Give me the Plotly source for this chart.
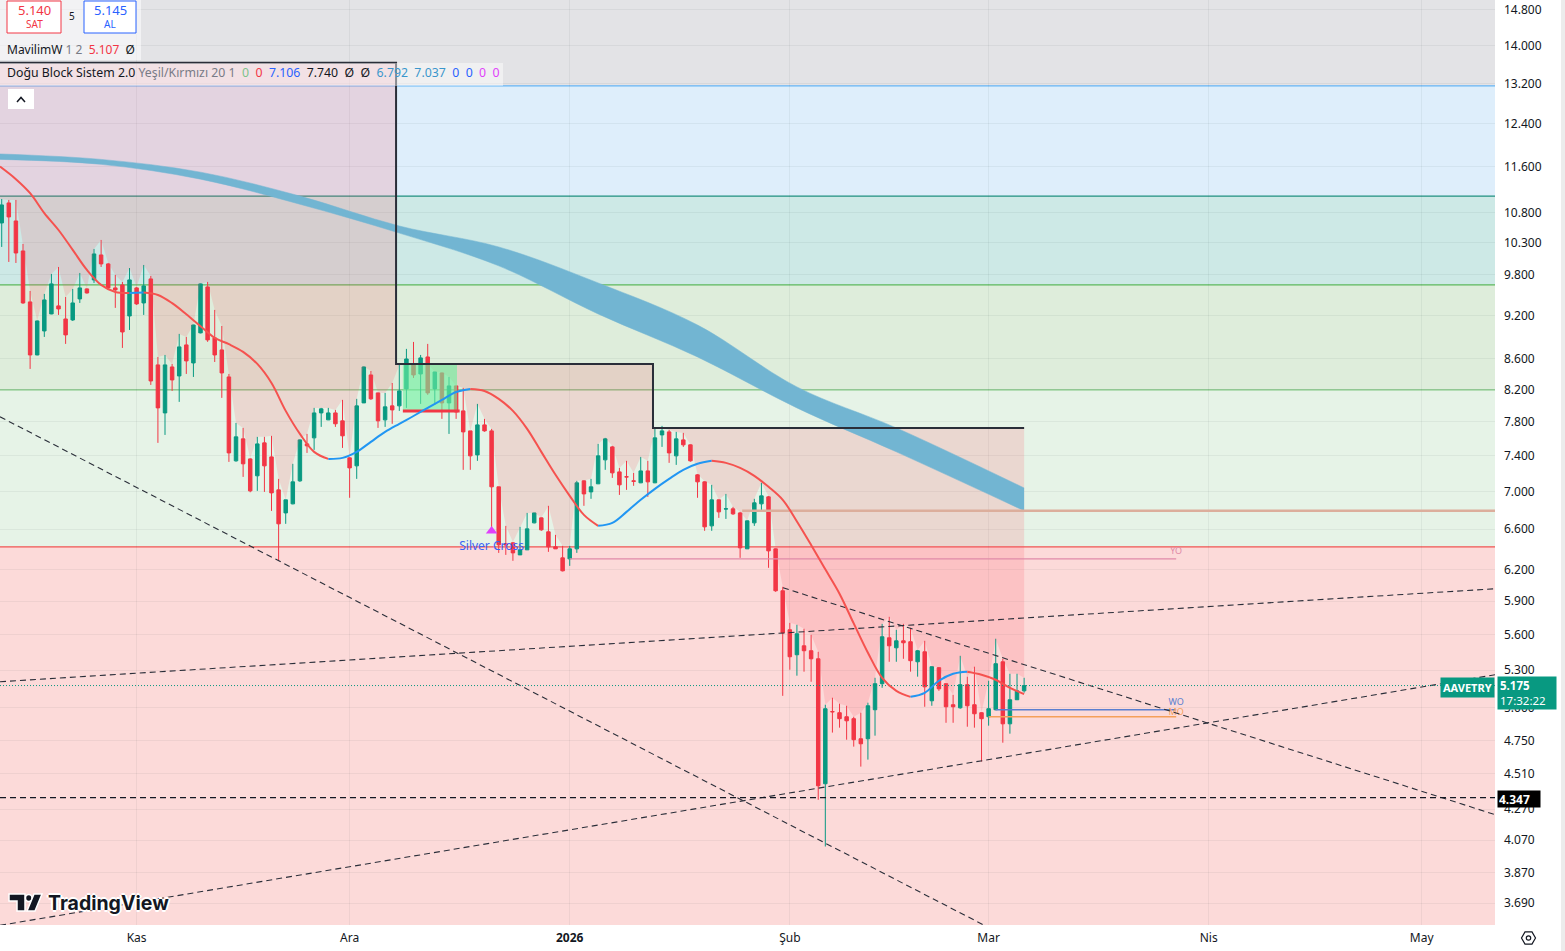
import math
import pandas as pd
import plotly.graph_objects as go

# ---------------- data ----------------
dates = pd.date_range('2025-10-13', periods=145, freq='D')

opens = [10.626, 10.962, 10.659, 10.173, 9.398, 8.654, 8.983, 9.224, 9.340, 9.152,
         9.138, 9.442, 9.590, 9.725, 10.110, 9.970, 9.605, 9.650, 9.195, 9.605,
         9.383, 9.740, 8.521, 7.908, 8.494, 8.376, 8.790, 8.547, 8.956, 9.620,
         8.886, 8.722, 8.363, 7.340, 7.595, 7.362, 7.171, 7.548, 7.385, 7.016,
         6.769, 6.865, 7.115, 7.536, 7.607, 7.908, 7.823, 7.908, 7.811, 7.374,
         7.283, 8.032, 8.389, 8.158, 7.823, 7.995, 7.995, 8.209, 8.521, 8.402,
         8.627, 8.209, 8.415, 8.032, 8.247, 7.933, 7.690, 7.408, 7.762, 7.690,
         7.049, 6.451, 6.461, 6.341, 6.391, 6.665, 6.717, 6.573, 6.421, 6.312,
         6.302, 6.401, 7.115, 6.994, 7.082, 7.351, 7.501, 7.215, 7.160, 7.115,
         7.093, 7.226, 7.093, 7.642, 7.678, 7.397, 7.583, 7.525, 7.182, 7.104,
         6.634, 6.908, 6.810, 6.812, 6.769, 6.401, 6.665, 6.865, 6.940, 6.401,
         5.997, 5.644, 5.429, 5.505, 5.463, 5.395, 4.442, 4.970, 4.961, 4.930,
         4.915, 4.764, 4.764, 4.984, 5.190, 5.574, 5.488, 5.548, 5.540, 5.370,
         5.454, 5.054, 5.321, 5.190, 5.023, 4.999, 5.182, 5.023, 4.961, 4.930,
         4.984, 5.370, 4.876, 5.062, 5.133]
highs = [11.030, 11.013, 11.013, 10.285, 9.560, 9.130, 9.516, 9.816, 9.923, 9.471,
         9.590, 9.831, 9.600, 10.205, 10.349, 9.985, 9.801, 9.695, 9.907, 9.620,
         9.954, 9.786, 8.627, 8.654, 8.534, 8.942, 8.900, 9.070, 9.670, 9.695,
         9.282, 9.053, 8.402, 7.786, 7.726, 7.370, 7.619, 7.619, 7.631, 7.137,
         6.910, 7.306, 7.590, 7.654, 7.970, 7.970, 7.970, 7.945, 8.070, 7.380,
         8.083, 8.500, 8.441, 8.160, 8.158, 8.285, 8.521, 8.736, 8.831, 8.654,
         8.804, 8.430, 8.420, 8.363, 8.250, 8.222, 7.690, 8.020, 7.835, 7.714,
         7.050, 6.634, 6.470, 6.624, 6.769, 6.770, 6.720, 6.844, 6.542, 6.431,
         6.431, 7.115, 7.120, 7.137, 7.536, 7.607, 7.513, 7.260, 7.340, 7.204,
         7.385, 7.340, 7.714, 7.750, 7.702, 7.678, 7.666, 7.530, 7.190, 7.110,
         7.071, 6.910, 6.972, 6.833, 6.780, 6.690, 6.919, 7.093, 6.950, 6.405,
         6.034, 5.705, 5.688, 5.653, 5.600, 5.454, 5.023, 5.078, 5.031, 5.015,
         4.930, 4.961, 5.039, 5.238, 5.696, 5.759, 5.644, 5.696, 5.661, 5.470,
         5.548, 5.330, 5.325, 5.190, 5.101, 5.420, 5.247, 5.329, 4.965, 5.214,
         5.566, 5.395, 5.271, 5.271, 5.238]
lows = [10.237, 10.001, 9.985, 9.370, 8.468, 8.650, 8.900, 9.220, 9.210, 8.804,
        9.124, 9.383, 9.520, 9.680, 9.923, 9.575, 9.311, 8.749, 8.997, 9.354,
        9.210, 8.260, 7.548, 7.642, 8.183, 8.045, 8.402, 8.363, 8.950, 8.832,
        8.560, 8.095, 7.328, 7.330, 7.159, 6.990, 7.005, 6.994, 6.790, 6.283,
        6.655, 6.860, 7.104, 7.431, 7.466, 7.738, 7.820, 7.738, 7.489, 6.930,
        7.137, 8.030, 8.070, 7.726, 7.738, 7.775, 7.933, 7.970, 8.350, 8.020,
        8.133, 8.007, 7.835, 7.654, 7.835, 7.238, 7.238, 7.340, 7.680, 6.613,
        6.361, 6.341, 6.283, 6.340, 6.390, 6.660, 6.583, 6.371, 6.400, 6.180,
        6.234, 6.361, 6.844, 6.919, 7.080, 7.238, 7.148, 6.961, 7.016, 7.060,
        7.090, 6.940, 7.090, 7.501, 7.317, 7.294, 7.501, 7.330, 6.930, 6.583,
        6.583, 6.717, 6.706, 6.748, 6.312, 6.400, 6.634, 6.780, 6.215, 5.987,
        5.093, 5.304, 5.255, 5.288, 5.206, 4.333, 4.029, 4.810, 4.847, 4.757,
        4.706, 4.562, 4.612, 4.787, 5.157, 5.370, 5.370, 5.395, 5.288, 5.247,
        5.007, 5.015, 5.133, 4.884, 4.884, 4.992, 4.854, 4.847, 4.598, 4.862,
        4.980, 4.735, 4.802, 5.060, 5.118]
closes = [10.928, 10.726, 10.141, 9.383, 8.654, 9.124, 9.427, 9.665, 9.296, 8.928,
          9.383, 9.605, 9.530, 10.126, 9.970, 9.605, 9.575, 8.969, 9.725, 9.369,
          9.635, 8.311, 7.970, 8.521, 8.324, 8.763, 8.574, 9.067, 9.665, 8.859,
          8.654, 8.415, 7.431, 7.619, 7.306, 7.005, 7.536, 7.283, 6.983, 6.655,
          6.908, 7.104, 7.583, 7.513, 7.908, 7.958, 7.908, 7.775, 7.631, 7.260,
          7.995, 8.494, 8.083, 7.811, 7.983, 7.945, 8.183, 8.600, 8.389, 8.614,
          8.158, 8.428, 8.032, 8.247, 7.920, 7.678, 7.397, 7.762, 7.690, 7.049,
          6.441, 6.441, 6.361, 6.391, 6.603, 6.769, 6.593, 6.421, 6.401, 6.186,
          6.401, 7.093, 6.972, 7.049, 7.397, 7.595, 7.204, 7.071, 7.159, 7.110,
          7.226, 7.104, 7.607, 7.690, 7.431, 7.595, 7.525, 7.340, 7.104, 6.624,
          6.908, 6.780, 6.812, 6.759, 6.411, 6.686, 6.876, 6.951, 6.381, 5.997,
          5.618, 5.412, 5.609, 5.463, 5.395, 4.428, 4.992, 4.968, 4.915, 4.899,
          4.757, 4.727, 5.015, 5.190, 5.583, 5.505, 5.548, 5.531, 5.379, 5.463,
          5.165, 5.329, 5.149, 5.007, 5.007, 5.182, 5.015, 4.953, 4.915, 4.992,
          5.354, 4.876, 5.062, 5.133, 5.175]

# MavilimW (smoothed average) read at every other candle (1-based candle numbers)
ma_candle = [1, 3, 5, 7, 9, 11, 13, 15, 17, 19, 21, 23, 25, 27, 29, 31, 33, 35, 37, 39,
             41, 43, 45, 47, 49, 51, 53, 55, 57, 59, 61, 63, 65, 67, 69, 71, 73, 75, 77, 79,
             81, 83, 85, 87, 89, 91, 93, 95, 97, 99, 101, 103, 105, 107, 109, 111, 113, 115,
             117, 119, 121, 123, 125, 127, 129, 131, 133, 135, 137, 139, 141, 143, 145]
ma_vals = [11.60, 11.375, 11.13, 10.79, 10.51, 10.19, 9.877, 9.65, 9.545, 9.530, 9.535,
           9.50, 9.38, 9.22, 9.05, 8.886, 8.80, 8.695, 8.534, 8.285,
           7.933, 7.654, 7.443, 7.362, 7.374, 7.443, 7.56, 7.678, 7.775, 7.87,
           7.970, 8.070, 8.170, 8.209, 8.183, 8.083, 7.933, 7.714, 7.443, 7.182,
           6.951, 6.748, 6.634, 6.665, 6.780, 6.908, 7.027, 7.137, 7.238, 7.306,
           7.340, 7.317, 7.260, 7.171, 7.049, 6.908, 6.68, 6.44,
           6.20, 5.97, 5.70, 5.446, 5.238, 5.133, 5.085, 5.117, 5.214, 5.271, 5.288,
           5.263, 5.222, 5.157, 5.107]

# Blue cloud (upper / lower edge) read at a few candles
cloud_candle = [1, 15, 29, 43, 57, 71, 85, 99, 113, 127, 145]
cloud_upper = [11.83, 11.73, 11.50, 11.08, 10.576, 10.237, 9.680, 9.067, 8.234, 7.726, 7.037]
cloud_lower = [11.73, 11.64, 11.375, 10.94, 10.46, 9.94, 9.224, 8.627, 7.970, 7.443, 6.792]

# Zone levels (band boundaries)
zone_edges = [6.421, 8.196, 9.650, 11.08, 13.15]
zone_colors = ['#fcdad9', '#e6f3e7', '#deeddb', '#cde9e6', '#deeefb', '#e3e3e6']
zone_lines = ['#ef5350', '#81c784', '#5cb85c', '#1f8f80', '#64b5f6']

# Block box (step) levels and their date edges
box_edges = ['2025-10-12 18:14', '2025-12-07 13:00', '2026-01-12 17:30', '2026-03-06 00:00']
box_levels = [13.63, 8.534, 7.726]

# Green signal box and its red base line
sig_box = ['2025-12-08 12:00', '2025-12-16 03:00', 7.945, 8.521]
sig_line = 7.933

# Trend lines (dashed)
trend_lines = [
    (('2025-10-12 18:14', 7.86), ('2026-03-02 14:00', 3.52)),
    (('2026-01-31 01:00', 6.025), ('2026-05-11 07:40', 4.234)),
    (('2025-10-12 18:14', 3.564), ('2026-05-11 07:40', 5.263)),
    (('2025-10-12 18:14', 5.206), ('2026-05-11 07:40', 6.016)),
]
support_level = 4.347
last_price = 5.175

# y ticks and x ticks
y_ticks = [14.8, 14.0, 13.2, 12.4, 11.6, 10.8, 10.3, 9.8, 9.2, 8.6, 8.2, 7.8, 7.4, 7.0,
           6.6, 6.2, 5.9, 5.6, 5.3, 5.0, 4.75, 4.51, 4.27, 4.07, 3.87, 3.69]
x_ticks = ['2025-11-01', '2025-12-01', '2026-01-01', '2026-02-01', '2026-03-01', '2026-04-01', '2026-05-01']
x_labels = ['Kas', 'Ara', '<b>2026</b>', 'Şub', 'Mar', 'Nis', 'May']

X_START, X_END = '2025-10-12 18:14', '2026-05-11 07:40'
Y_MIN, Y_MAX = 3.566, 15.03

# ---------------- helpers ----------------
W_PLOT, H_PLOT = 1495.0, 925.0


def px(x):
    return x / W_PLOT


def py(y):
    return 1 - y / H_PLOT


FONT = 'Noto Sans'
fig = go.Figure()

# zone bands
bounds = [1.0] + zone_edges + [100.0]
for i, col in enumerate(zone_colors):
    fig.add_shape(type='rect', xref='paper', yref='y', x0=0, x1=1, y0=bounds[i], y1=bounds[i + 1],
                  fillcolor=col, line_width=0, layer='below')
for lvl, col in zip(zone_edges, zone_lines):
    fig.add_shape(type='line', xref='paper', yref='y', x0=0, x1=1, y0=lvl, y1=lvl,
                  line=dict(color=col, width=1.3), layer='below')

# block overlay fill (step top down to price highs)
box_ts = [pd.Timestamp(e) for e in box_edges]


def level_at(t):
    for k in range(len(box_levels)):
        if box_ts[k] <= t <= box_ts[k + 1]:
            return box_levels[k]
    return box_levels[-1]


top_x, top_y = [], []
for k, lvl in enumerate(box_levels):
    top_x += [box_ts[k], box_ts[k + 1]]
    top_y += [lvl, lvl]
bot_x = [d for d in dates[::-1]]
bot_y = [min(h, level_at(d)) for d, h in zip(dates[::-1], highs[::-1])]
poly_x = top_x + bot_x + [box_ts[0]]
poly_y = top_y + bot_y + [highs[0]]
fig.add_trace(go.Scatter(x=poly_x, y=poly_y, mode='lines', fill='toself',
                         fillcolor='rgba(255,80,95,0.17)', line=dict(width=0), hoverinfo='skip'))

# blue cloud
cloud_x = [dates[c - 1] for c in cloud_candle]
cloud_x[0] = pd.Timestamp(X_START)
fig.add_trace(go.Scatter(x=cloud_x, y=cloud_lower, mode='lines', line=dict(color='#72b5d2', width=0.5, shape='spline'),
                         hoverinfo='skip'))
fig.add_trace(go.Scatter(x=cloud_x, y=cloud_upper, mode='lines', fill='tonexty', fillcolor='#72b5d2',
                         line=dict(color='#72b5d2', width=0.5, shape='spline'), hoverinfo='skip'))

# green signal box
fig.add_trace(go.Scatter(x=[sig_box[0], sig_box[1], sig_box[1], sig_box[0], sig_box[0]],
                         y=[sig_box[2], sig_box[2], sig_box[3], sig_box[3], sig_box[2]],
                         mode='lines', fill='toself', fillcolor='rgba(110,240,160,0.62)', line=dict(width=0),
                         hoverinfo='skip'))
fig.add_trace(go.Scatter(x=[sig_box[0], '2025-12-16 12:00'], y=[sig_line, sig_line], mode='lines',
                         line=dict(color='#f23645', width=3), hoverinfo='skip'))

# step border line
fig.add_trace(go.Scatter(x=[box_ts[0], box_ts[1], box_ts[1], box_ts[2], box_ts[2], box_ts[3]],
                         y=[box_levels[0], box_levels[0], box_levels[1], box_levels[1], box_levels[2], box_levels[2]],
                         mode='lines', line=dict(color='#2a2e39', width=2), hoverinfo='skip'))

# cloud-lower level line
fig.add_trace(go.Scatter(x=['2026-01-25 07:00', X_END], y=[cloud_lower[-1], cloud_lower[-1]], mode='lines',
                         line=dict(color='#dcae9c', width=2.5), hoverinfo='skip'))

# YO / MO / WO
yo_i = list(dates).index(pd.Timestamp('2026-01-01'))
mo_i = list(dates).index(pd.Timestamp('2026-03-01'))
wo_i = list(dates).index(pd.Timestamp('2026-03-02'))
lbl_end = '2026-03-27 10:00'
for idx, name, col, shift in [(yo_i, 'YO', '#e08aa8', 1.004), (wo_i, 'WO', '#5b7fd0', 1.004),
                              (mo_i, 'MO', '#f5a05a', 0.999)]:
    lv = opens[idx]
    fig.add_trace(go.Scatter(x=[dates[idx], lbl_end], y=[lv, lv], mode='lines',
                             line=dict(color=col, width=1.3), hoverinfo='skip'))
    fig.add_trace(go.Scatter(x=[lbl_end], y=[lv * shift], mode='text', text=[name],
                             textfont=dict(color=col, size=9, family=FONT), textposition='top center',
                             hoverinfo='skip'))

# dashed trend lines
for (a, b) in trend_lines:
    fig.add_trace(go.Scatter(x=[a[0], b[0]], y=[a[1], b[1]], mode='lines',
                             line=dict(color='#2a2e39', width=1.1, dash='6px,4px'), hoverinfo='skip'))
fig.add_trace(go.Scatter(x=[X_START, X_END], y=[support_level, support_level], mode='lines',
                         line=dict(color='#131722', width=1.2, dash='6px,4px'), hoverinfo='skip'))
fig.add_trace(go.Scatter(x=[X_START, X_END], y=[last_price, last_price], mode='lines',
                         line=dict(color='#089981', width=1, dash='1px,2px'), hoverinfo='skip'))

# MavilimW coloured by direction
ma_x = [dates[c - 1] for c in ma_candle]
ma_x[0] = pd.Timestamp(X_START)
runs = []
cur = None
for i in range(1, len(ma_vals)):
    col = '#2196f3' if ma_vals[i] > ma_vals[i - 1] else '#f5524f'
    if cur is None or cur['c'] != col:
        cur = {'c': col, 'i': [i - 1, i]}
        runs.append(cur)
    else:
        cur['i'].append(i)
for r in runs:
    fig.add_trace(go.Scatter(x=[ma_x[i] for i in r['i']], y=[ma_vals[i] for i in r['i']], mode='lines',
                             line=dict(color=r['c'], width=2, shape='spline'), hoverinfo='skip'))

# Silver cross text (behind candles)
sc_i = list(dates).index(pd.Timestamp('2025-12-21'))
fig.add_trace(go.Scatter(x=[dates[sc_i]], y=[zone_edges[0]], mode='text', text=['Silver Cross'],
                         textfont=dict(color='#3d63f5', size=12, family=FONT), textposition='middle center',
                         hoverinfo='skip'))

# candles
fig.add_trace(go.Candlestick(x=dates, open=opens, high=highs, low=lows, close=closes,
                             increasing=dict(line=dict(color='#089981', width=1), fillcolor='#089981'),
                             decreasing=dict(line=dict(color='#f23645', width=1), fillcolor='#f23645'),
                             whiskerwidth=0, hoverinfo='skip'))

# signal triangle
fig.add_trace(go.Scatter(x=[dates[sc_i]], y=[lows[sc_i] * 0.995], mode='markers',
                         marker=dict(symbol='triangle-up', size=10, color='#e040fb'), hoverinfo='skip'))


# ---------------- overlays (legend, labels) ----------------
def pshape(**kw):
    kw.setdefault('xref', 'paper')
    kw.setdefault('yref', 'paper')
    kw.setdefault('layer', 'above')
    fig.add_shape(**kw)


def pnote(**kw):
    kw.setdefault('xref', 'paper')
    kw.setdefault('yref', 'paper')
    kw.setdefault('showarrow', False)
    kw.setdefault('xanchor', 'center')
    kw.setdefault('yanchor', 'middle')
    fig.add_annotation(**kw)


# legend panel background
pshape(type='rect', x0=0, x1=px(141), y0=py(60), y1=py(0), fillcolor='rgba(255,255,255,0.55)', line_width=0)
pshape(type='rect', x0=0, x1=px(503), y0=py(86), y1=py(63), fillcolor='rgba(255,255,255,0.45)', line_width=0)
# SAT / AL boxes
pshape(type='rect', x0=px(7), x1=px(61), y0=py(33), y1=py(1), fillcolor='white',
       line=dict(color='#f23645', width=1))
pshape(type='rect', x0=px(84), x1=px(136), y0=py(33), y1=py(1), fillcolor='white',
       line=dict(color='#2962ff', width=1))
pnote(x=px(34), y=py(10), text='5.140', font=dict(color='#f23645', size=13, family=FONT))
pnote(x=px(34), y=py(24), text='SAT', font=dict(color='#f23645', size=10, family=FONT))
pnote(x=px(72), y=py(16), text='5', font=dict(color='#131722', size=10, family=FONT))
pnote(x=px(110), y=py(10), text='5.145', font=dict(color='#2962ff', size=13, family=FONT))
pnote(x=px(110), y=py(24), text='AL', font=dict(color='#2962ff', size=10, family=FONT))
pnote(x=px(5), y=py(49), xanchor='left',
      text="MavilimW <span style='color:#787b86'>1 2</span>  <span style='color:#f23645'>5.107</span>  Ø",
      font=dict(color='#131722', size=12, family=FONT))
pnote(x=px(5), y=py(73), xanchor='left',
      text=("Doğu Block Sistem 2.0 <span style='color:#787b86'>Yeşil/Kırmızı 20 1</span>  "
            "<span style='color:#7cc38a'>0</span>  <span style='color:#f23645'>0</span>  "
            "<span style='color:#2962ff'>7.106</span>  7.740  Ø  Ø  "
            "<span style='color:#3a96cc'>6.792  7.037</span>  "
            "<span style='color:#2962ff'>0  0</span>  <span style='color:#e040fb'>0  0</span>"),
      font=dict(color='#131722', size=12.3, family=FONT))
# collapse button
pshape(type='rect', x0=px(8), x1=px(34), y0=py(109), y1=py(89), fillcolor='white', line_width=0)
pshape(type='path', path=f'M {px(17)} {py(102)} L {px(21)} {py(97.5)} L {px(25)} {py(102)}',
       line=dict(color='#131722', width=1.5))

# TradingView logo
pshape(type='path',
       path=(f'M {px(9)} {py(894)} L {px(25)} {py(894)} L {px(25)} {py(911)} L {px(17)} {py(911)} '
             f'L {px(17)} {py(901)} L {px(9)} {py(901)} Z'),
       fillcolor='#131722', line=dict(color='white', width=1.5))
pshape(type='circle', x0=px(25.5), x1=px(32), y0=py(901.5), y1=py(894.5),
       fillcolor='#131722', line=dict(color='white', width=1.5))
pshape(type='path', path=f'M {px(34)} {py(894)} L {px(42)} {py(894)} L {px(35)} {py(911)} L {px(27)} {py(911)} Z',
       fillcolor='#131722', line=dict(color='white', width=1.5))
pnote(x=px(46), y=py(903), xanchor='left', text='<b>TradingView</b>',
      font=dict(color='#131722', size=19.5, family='Inter',
                shadow='2px 0 0 #fff, -2px 0 0 #fff, 0 2px 0 #fff, 0 -2px 0 #fff'))

# right-edge strip and settings icon
pshape(type='rect', x0=px(1561), x1=px(1566), y0=py(952), y1=py(0), fillcolor='#ececec', line_width=0)
hx, hy, hr = 1528.5, 938.0, 7.0
hexpts = [(hx + hr * math.cos(math.radians(a)), hy + hr * math.sin(math.radians(a))) for a in range(0, 360, 60)]
pshape(type='path', path='M ' + ' L '.join(f'{px(a)} {py(b)}' for a, b in hexpts) + ' Z',
       line=dict(color='#131722', width=1.2))
pshape(type='circle', x0=px(hx - 2.2), x1=px(hx + 2.2), y0=py(hy + 2.2), y1=py(hy - 2.2),
       line=dict(color='#131722', width=1.2))

# price labels on the axis
pnote(x=px(1467.5), y=py(687), text='<b>AAVETRY</b>', bgcolor='#089981',
      font=dict(color='white', size=11, family=FONT), borderpad=2)
pnote(x=px(1497), y=py(693), xanchor='left', text='<b>5.175</b><br>17:32:22', align='left',
      bgcolor='#089981', width=54, height=28, font=dict(color='white', size=11.5, family=FONT), borderpad=2)
pnote(x=px(1497), y=py(798.5), xanchor='left', text='<b>4.347</b>', bgcolor='#000000',
      width=40, height=14, align='left', font=dict(color='white', size=12, family=FONT), borderpad=1)

fig.update_layout(
    width=1565, height=951,
    margin=dict(l=0, r=70, t=0, b=26, pad=0, autoexpand=False),
    paper_bgcolor='white', plot_bgcolor='white',
    showlegend=False,
    font=dict(family=FONT, size=12, color='#131722'),
    boxgap=0.3,
    xaxis=dict(type='date', range=[X_START, X_END], tickvals=x_ticks, ticktext=x_labels,
               showgrid=True, gridcolor='rgba(42,46,57,0.06)', zeroline=False, ticks='',
               rangeslider=dict(visible=False), tickfont=dict(size=12, color='#131722'),
               ticklabelstandoff=4, showline=False, fixedrange=True, automargin=False),
    yaxis=dict(type='log', range=[math.log10(Y_MIN), math.log10(Y_MAX)], side='right',
               tickvals=y_ticks, ticktext=[f'{v:.3f}' for v in y_ticks],
               showgrid=True, gridcolor='rgba(42,46,57,0.06)', zeroline=False, ticks='',
               tickfont=dict(size=12, color='#131722'), ticklabelstandoff=8, showline=False,
               fixedrange=True, automargin=False),
)

fig.write_html('out.html', config={'displayModeBar': False},
               post_script="document.body.style.margin='0';document.body.style.overflow='hidden';")
